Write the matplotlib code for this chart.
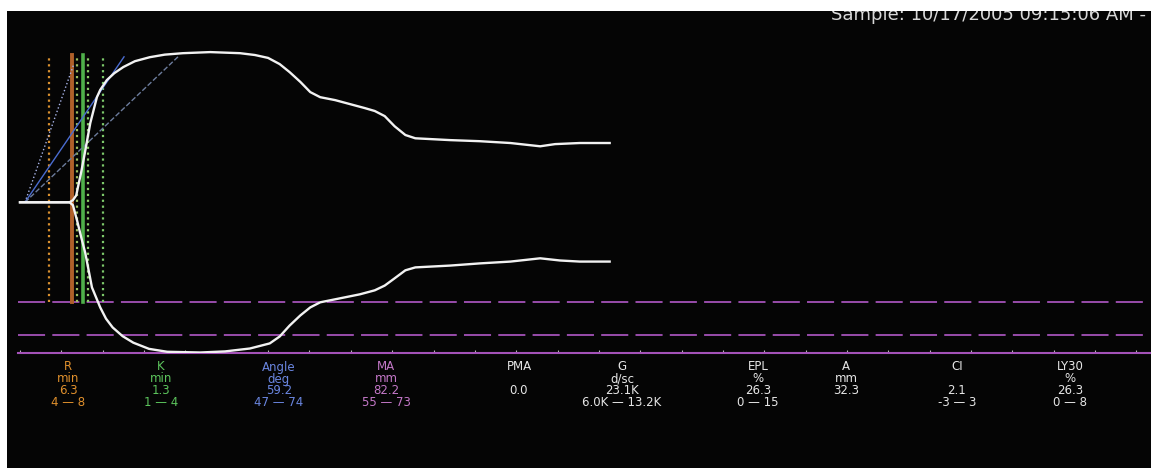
import matplotlib
matplotlib.use("Agg")
import matplotlib.pyplot as plt
from matplotlib.patches import Rectangle
import numpy as np

plt.rcParams.update({
    'font.family': ['DejaVu Sans'],
    'font.size': 8.5,
})

# Data: TEG trace (time in min, half-amplitude in mm)
t_upper = [0.0, 6.0, 6.4, 6.8, 7.0, 7.4, 7.9, 8.5, 9.3, 9.7, 10.5, 11.4, 12.5, 13.9,
           15.7, 17.5, 19.7, 23.0, 26.6, 28.4, 30.0, 31.4, 32.6, 33.9, 35.1, 36.3,
           38.1, 39.9, 41.7, 42.9, 44.1, 45.3, 46.6, 47.8, 52.0, 55.6, 59.3, 61.7,
           62.9, 64.7, 67.7, 71.3]
a_upper = [0.0, 0.0, 0.6, 1.9, 4.1, 8.3, 14.3, 21.8, 28.9, 30.9, 33.6, 35.5, 37.2, 38.8,
           39.9, 40.6, 41.0, 41.3, 41.0, 40.5, 39.7, 38.0, 35.8, 33.1, 30.3, 28.9,
           28.1, 27.0, 25.9, 25.1, 23.7, 20.9, 18.5, 17.6, 17.1, 16.8, 16.3, 15.7,
           15.4, 16.0, 16.3, 16.3]
t_lower = [0.0, 6.0, 6.4, 6.9, 7.4, 7.9, 8.7, 9.7, 10.4, 11.2, 12.4, 13.7, 15.6, 17.8,
           21.8, 24.8, 27.8, 30.2, 31.4, 32.6, 33.9, 35.1, 36.3, 38.7, 41.1, 42.9,
           44.1, 45.3, 46.6, 47.8, 52.0, 55.6, 59.3, 61.7, 62.9, 65.3, 67.7, 71.3]
a_lower = [0.0, 0.0, -0.8, -5.0, -9.6, -14.0, -23.4, -28.9, -32.0, -34.4, -36.8, -38.6,
           -40.3, -41.1, -41.3, -41.0, -40.2, -38.8, -36.9, -33.9, -31.1, -28.9, -27.5,
           -26.4, -25.3, -24.2, -22.9, -20.9, -18.7, -17.9, -17.4, -16.8, -16.3, -15.7,
           -15.4, -16.0, -16.3, -16.3]

# R / K marker lines (min)
marker_times = [3.5, 6.3, 6.9, 7.6, 8.2, 10.0]
marker_colors = ['#d9902f', '#b0602a', '#9cc060', '#4fb04a', '#8ccf6a', '#7cc86a']
marker_styles = [':', '-', ':', '-', ':', ':']
marker_widths = [1.6, 2.8, 1.6, 2.6, 1.6, 1.6]

# angle lines: 74 (upper range), 59.2 (measured), 47 (lower range)
angle_deg = [74, 59.2, 47]
angle_top = [37.7, 40.0, 40.0]
angle_colors = ['#a8b4e8', '#4a6cd0', '#6c7c9c']
angle_styles = [':', '-', '--']

# MA reference range (mm, drawn as half-amplitude)
ma_range = [55, 73]

# parameter table
headers = ['R', 'K', 'Angle', 'MA', 'PMA', 'G', 'EPL', 'A', 'CI', 'LY30']
units = ['min', 'min', 'deg', 'mm', '', 'd/sc', '%', 'mm', '', '%']
values = ['6.3', '1.3', '59.2', '82.2', '0.0', '23.1K', '26.3', '32.3', '2.1', '26.3']
ranges = ['4 \u2014 8', '1 \u2014 4', '47 \u2014 74', '55 \u2014 73', '',
          '6.0K \u2014 13.2K', '0 \u2014 15', '', '-3 \u2014 3', '0 \u2014 8']
col_x = [68, 161, 279, 386, 519, 622, 758, 846, 957, 1070]
col_colors = ['#e0902c', '#5cc45c', '#6a86e0', '#c478c8'] + ['#e6e6e6'] * 6

W, H = 1154, 470
PX_MIN, PX_MM = 8.27, 3.63
fig = plt.figure(figsize=(W / 100, H / 100), dpi=100)
fig.patch.set_facecolor('white')
fig.patches.append(Rectangle((7 / W, 2 / H), 1144 / W, 457 / H, transform=fig.transFigure,
                             facecolor='#050505', edgecolor='none', zorder=-5))

ax = fig.add_axes([18 / W, (H - 352.5) / H, 1132 / W, 341.5 / H])
ax.set_facecolor('none')
ax.set_xlim(-2 / PX_MIN, 1130 / PX_MIN)
ax.set_ylim(-41.3, 52.6)

magenta = '#a452b8'
for v in ma_range:
    ax.axhline(-v / 2, color=magenta, lw=1.3, ls=(0, (15, 4)), zorder=1)

for t, c, s, w in zip(marker_times, marker_colors, marker_styles, marker_widths):
    ax.plot([t, t], [-27.5, 40.5], color=c, ls=s, lw=w, zorder=2)

# tangent-style angle lines, drawn in screen proportion
t0 = 0.6
for ang, top, c, s in zip(angle_deg, angle_top, angle_colors, angle_styles):
    slope = np.tan(np.radians(ang - 3.5)) * PX_MIN / PX_MM
    ax.plot([t0, t0 + top / slope], [0, top], color=c, ls=s, lw=1.0, zorder=2)

ax.plot(t_upper, a_upper, color='#f2f2f2', lw=1.7, zorder=3, solid_joinstyle='round')
ax.plot(t_lower, a_lower, color='#f2f2f2', lw=1.7, zorder=3, solid_joinstyle='round')

for side in ['top', 'left', 'right']:
    ax.spines[side].set_visible(False)
ax.spines['bottom'].set_color(magenta)
ax.spines['bottom'].set_linewidth(1.5)
ax.set_xticks(np.arange(0, 136, 5))
ax.set_xticklabels([])
ax.set_yticks([])
ax.tick_params(axis='x', direction='in', length=2.5, color='#bbbbbb', width=0.8)

rows_y = [367, 379, 390.5, 402]
for x, c, h, u, v, r in zip(col_x, col_colors, headers, units, values, ranges):
    for y, txt in zip(rows_y, [h, u, v, r]):
        if txt:
            fig.text(x / W, 1 - y / H, txt, color=c, ha='center', va='center',
                     fontsize=8.5)

fig.text(1146 / W, 1 - 20 / H, 'Sample: 10/17/2005 09:15:06 AM -', color='#d8d8d8',
         ha='right', va='baseline', fontsize=13, zorder=1)
fig.patches.append(Rectangle((0, 1 - 11 / H), 1, 11 / H, transform=fig.transFigure,
                             facecolor='white', edgecolor='none', zorder=10))

fig.savefig('out.png', dpi=100, facecolor='white')
